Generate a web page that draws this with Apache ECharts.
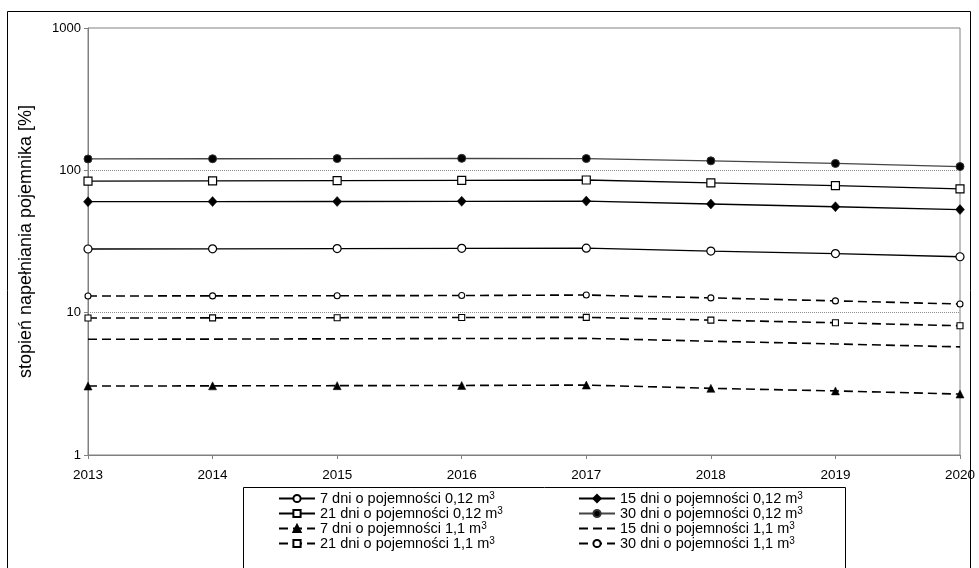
<!DOCTYPE html>
<html>
<head>
<meta charset="utf-8">
<script src="https://cdn.jsdelivr.net/npm/echarts@6/dist/echarts.min.js"></script>
<style>
  html, body { margin: 0; padding: 0; background: #fff; }
  #chart { width: 979px; height: 568px; }
</style>
</head>
<body>
<div id="chart"></div>
<script>
// Years on the horizontal axis
const years = ['2013', '2014', '2015', '2016', '2017', '2018', '2019', '2020'];

// Fill level [%] for 0.12 m3 bins, by collection interval
const d7_012  = [28.0, 28.1, 28.2, 28.3, 28.4, 27.1, 26.0, 24.7];
const d15_012 = [60.2, 60.3, 60.4, 60.6, 60.8, 58.0, 55.5, 53.0];
const d21_012 = [84.1, 84.4, 84.7, 85.1, 85.5, 81.6, 78.0, 74.2];
const d30_012 = [120.2, 120.6, 121.0, 121.4, 121.0, 116.6, 111.8, 106.3];

// Fill level [%] for 1.1 m3 bins, by collection interval
const d7_11  = [3.05, 3.06, 3.07, 3.08, 3.10, 2.94, 2.82, 2.68];
const d15_11 = [6.50, 6.52, 6.55, 6.58, 6.60, 6.30, 6.03, 5.75];
const d21_11 = [9.17, 9.19, 9.22, 9.25, 9.27, 8.87, 8.49, 8.09];
const d30_11 = [13.1, 13.12, 13.15, 13.2, 13.3, 12.7, 12.1, 11.5];

// Tick values of the logarithmic axis
const yTicks = [1, 10, 100, 1000];

const names = [
  '7 dni o pojemności 0,12 m³',
  '15 dni o pojemności 0,12 m³',
  '21 dni o pojemności 0,12 m³',
  '30 dni o pojemności 0,12 m³',
  '7 dni o pojemności 1,1 m³',
  '15 dni o pojemności 1,1 m³',
  '21 dni o pojemności 1,1 m³',
  '30 dni o pojemności 1,1 m³'
];

const FONT = 'Liberation Sans, Arial, sans-serif';
const DASH = [9, 5];

function series(name, data, opts) {
  return Object.assign({
    name: name,
    type: 'line',
    data: data,
    animation: false,
    showAllSymbol: true
  }, opts);
}

// dotted reference lines at the inner decades (10 and 100)
const decadeLines = {
  silent: true,
  symbol: 'none',
  label: { show: false },
  lineStyle: { color: '#8c8c8c', type: [1, 1], width: 1 },
  data: yTicks.slice(1, -1).map(v => ({ yAxis: v }))
};

const legendText = {
  fontFamily: FONT,
  fontSize: 14.5,
  color: '#000',
  rich: {
    t: { fontFamily: FONT, fontSize: 14.5, color: '#000', lineHeight: 14 },
    s: { fontFamily: FONT, fontSize: 10, color: '#000', verticalAlign: 'top', lineHeight: 8 }
  }
};
const legendFormatter = n => '{t|' + n.replace('³', '') + '}{s|3}';

function legendCol(left, idx) {
  return {
    left: left, top: 491, orient: 'vertical', padding: 0, height: 200,
    itemWidth: 36, itemHeight: 9, itemGap: 0,
    data: idx.map(i => i === 5
      ? { name: names[i], itemStyle: { opacity: 0 } }
      : names[i]),
    textStyle: legendText, formatter: legendFormatter,
    selectedMode: false, z: 5
  };
}

const chart = echarts.init(document.getElementById('chart'), null, { renderer: 'canvas' });

chart.setOption({
  backgroundColor: '#fff',
  animation: false,
  grid: {
    left: 88, right: 19, top: 28, bottom: 113,
    show: true, borderColor: '#808080', borderWidth: 1, backgroundColor: 'transparent'
  },
  graphic: [
    { type: 'rect', shape: { x: 7.5, y: 11.5, width: 963, height: 600 },
      style: { fill: 'none', stroke: '#000', lineWidth: 1 }, silent: true, z: -1 },
    { type: 'rect', shape: { x: 243.5, y: 487.5, width: 602, height: 100 },
      style: { fill: '#fff', stroke: '#000', lineWidth: 1 }, silent: true, z: 1 }
  ],
  xAxis: {
    type: 'category',
    data: years,
    boundaryGap: false,
    axisLine: { lineStyle: { color: '#808080', width: 1 } },
    axisTick: { show: true, inside: false, length: 4, alignWithLabel: true, lineStyle: { color: '#808080' } },
    axisLabel: { color: '#000', fontFamily: FONT, fontSize: 13.5, margin: 13 },
    splitLine: { show: false }
  },
  yAxis: {
    type: 'log',
    logBase: 10,
    min: yTicks[0],
    max: yTicks[yTicks.length - 1],
    name: 'stopień napełniania pojemnika [%]',
    nameLocation: 'middle',
    nameGap: 53,
    nameTextStyle: { color: '#000', fontFamily: FONT, fontSize: 18 },
    axisLine: { show: true, lineStyle: { color: '#808080', width: 1 } },
    axisTick: { show: true, length: 4, lineStyle: { color: '#808080' } },
    axisLabel: { color: '#000', fontFamily: FONT, fontSize: 13, margin: 7, formatter: v => String(v) },
    splitLine: { show: false },
    minorTick: { show: false }
  },
  legend: [
    legendCol(278, [0, 2, 4, 6]),
    legendCol(578, [1, 3, 5, 7])
  ],
  series: [
    series(names[0], d7_012, {
      symbol: 'circle', symbolSize: 8,
      lineStyle: { color: '#000', width: 1.3 },
      itemStyle: { color: '#fff', borderColor: '#000', borderWidth: 1.2 }
    }),
    series(names[1], d15_012, {
      symbol: 'diamond', symbolSize: [9, 10],
      lineStyle: { color: '#000', width: 1.3 },
      itemStyle: { color: '#000', borderColor: '#000', borderWidth: 0.5 }
    }),
    series(names[2], d21_012, {
      symbol: 'rect', symbolSize: 8,
      lineStyle: { color: '#000', width: 1.3 },
      itemStyle: { color: '#fff', borderColor: '#000', borderWidth: 1.2 }
    }),
    series(names[3], d30_012, {
      symbol: 'circle', symbolSize: 8,
      lineStyle: { color: '#454545', width: 1.3 },
      itemStyle: { color: '#000', borderColor: '#333', borderWidth: 1 }
    }),
    series(names[4], d7_11, {
      symbol: 'triangle', symbolSize: [8, 8],
      lineStyle: { color: '#000', width: 1.6, type: DASH },
      itemStyle: { color: '#000', borderColor: '#000', borderWidth: 0.5 }
    }),
    series(names[5], d15_11, {
      symbol: 'none',
      lineStyle: { color: '#000', width: 1.6, type: DASH },
      itemStyle: { color: '#000' },
      markLine: decadeLines
    }),
    series(names[6], d21_11, {
      symbol: 'rect', symbolSize: 6,
      lineStyle: { color: '#000', width: 1.6, type: DASH },
      itemStyle: { color: '#fff', borderColor: '#000', borderWidth: 1.1 }
    }),
    series(names[7], d30_11, {
      symbol: 'circle', symbolSize: 6,
      lineStyle: { color: '#000', width: 1.6, type: DASH },
      itemStyle: { color: '#fff', borderColor: '#000', borderWidth: 1.1 }
    })
  ]
});
</script>
</body>
</html>
